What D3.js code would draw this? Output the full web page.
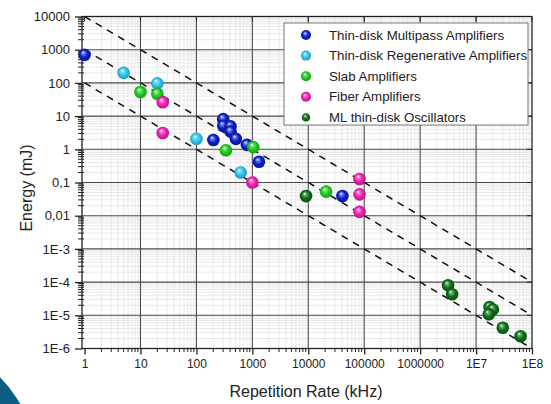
<!DOCTYPE html>
<html>
<head>
<meta charset="utf-8">
<script src="https://cdn.jsdelivr.net/npm/d3@7"></script>
<style>
  body { margin: 0; background: #fff; }
  svg { display: block; font-family: "Liberation Sans", Arial, sans-serif; }
</style>
</head>
<body>
<svg width="551" height="404"></svg>
<script>
// Repetition rate (kHz) and pulse energy (mJ)
const multipassRate   = [1, 201, 301, 301, 408, 408, 508, 800, 1313, 40800];
const multipassEnergy = [700, 1.9, 8.1, 5.1, 4.9, 3.4, 2.06, 1.36, 0.42, 0.039];
const regenRate       = [5, 20, 100, 617];
const regenEnergy     = [200, 97, 2.06, 0.2];
const slabRate        = [10, 20, 336, 1038, 20800];
const slabEnergy      = [53, 47, 0.94, 1.16, 0.053];
const fiberRate       = [25, 25, 1000, 82400, 82400, 82400];
const fiberEnergy     = [26, 3.1, 0.1, 0.128, 0.044, 0.013];
const oscRate         = [9130, 3.16e6, 3.73e6, 1.74e7, 2e7, 1.69e7, 3e7, 6.25e7];
const oscEnergy       = [0.039, 8e-5, 4.3e-5, 1.77e-5, 1.5e-5, 1.07e-5, 4.2e-6, 2.35e-6];

const seriesNames = ['Thin-disk Multipass Amplifiers', 'Thin-disk Regenerative Amplifiers',
  'Slab Amplifiers', 'Fiber Amplifiers', 'ML thin-disk Oscillators'];
const seriesColors = ['#0a1ec8', '#2fc3f0', '#1ecb1e', '#f01eb4', '#0b6e16'];

// average power lines: energy * rate = const (mJ * kHz)
const powerLines = [10000, 1000, 100];

const xTicks = [1, 10, 100, 1000, 1e4, 1e5, 1e6, 1e7, 1e8];
const xLabels = ['1', '10', '100', '1000', '10000', '100000', '1000000', '1E7', '1E8'];
const yTicks = [1e4, 1e3, 100, 10, 1, 0.1, 0.01, 1e-3, 1e-4, 1e-5, 1e-6];
const yLabels = ['10000', '1000', '100', '10', '1', '0,1', '0,01', '1E-3', '1E-4', '1E-5', '1E-6'];

const series = [
  [multipassRate, multipassEnergy],
  [regenRate, regenEnergy],
  [slabRate, slabEnergy],
  [fiberRate, fiberEnergy],
  [oscRate, oscEnergy]
].map(([r, e], i) => ({ i, points: r.map((v, j) => ({ r: v, e: e[j] })) }));

const svg = d3.select('svg');
const pLeft = 82, pRight = 532, pTop = 16.5, pBottom = 348.5;

const x = d3.scaleLog().domain([0.9, 1e8]).range([pLeft, pRight]);
const y = d3.scaleLog().domain([1e-6, 1e4]).range([pBottom, pTop]);

// decorative slide background shape in the corner
svg.append('circle')
  .attr('cx', -94).attr('cy', 470).attr('r', 132)
  .attr('fill', '#0d5d80');

const defs = svg.append('defs');
seriesColors.forEach((c, i) => {
  const g = defs.append('radialGradient')
    .attr('id', 'ball' + i)
    .attr('cx', '50%').attr('cy', '50%').attr('r', '55%')
    .attr('fx', '38%').attr('fy', '30%');
  g.append('stop').attr('offset', '0%').attr('stop-color', '#ffffff');
  g.append('stop').attr('offset', '18%').attr('stop-color', d3.interpolateRgb(c, '#fff')(0.45));
  g.append('stop').attr('offset', '55%').attr('stop-color', c);
  g.append('stop').attr('offset', '100%').attr('stop-color', d3.color(c).darker(0.9));
});
defs.append('clipPath').attr('id', 'plot')
  .append('rect').attr('x', pLeft).attr('y', pTop)
  .attr('width', pRight - pLeft).attr('height', pBottom - pTop);

// minor grid
const minorX = [], minorY = [];
for (let d = 0; d < 8; d++) for (let k = 2; k < 10; k++) minorX.push(k * Math.pow(10, d));
for (let d = -6; d < 4; d++) for (let k = 2; k < 10; k++) minorY.push(k * Math.pow(10, d));

const grid = svg.append('g');
grid.selectAll('.mx').data(minorX).enter().append('line')
  .attr('x1', d => x(d)).attr('x2', d => x(d))
  .attr('y1', pTop).attr('y2', pBottom)
  .attr('stroke', '#e3e3e3').attr('stroke-width', 0.8);
grid.selectAll('.my').data(minorY).enter().append('line')
  .attr('y1', d => y(d)).attr('y2', d => y(d))
  .attr('x1', pLeft).attr('x2', pRight)
  .attr('stroke', '#e3e3e3').attr('stroke-width', 0.8);
grid.selectAll('.gx').data(xTicks.slice(1, -1)).enter().append('line')
  .attr('x1', d => x(d)).attr('x2', d => x(d))
  .attr('y1', pTop).attr('y2', pBottom)
  .attr('stroke', '#4a4a4a').attr('stroke-width', 1.1);
grid.selectAll('.gy').data(yTicks.slice(1, -1)).enter().append('line')
  .attr('y1', d => y(d)).attr('y2', d => y(d))
  .attr('x1', pLeft).attr('x2', pRight)
  .attr('stroke', '#4a4a4a').attr('stroke-width', 1.1);

// dashed constant-power lines
svg.append('g').attr('clip-path', 'url(#plot)')
  .selectAll('line').data(powerLines).enter().append('line')
  .attr('x1', x(1)).attr('y1', p => y(p / 1))
  .attr('x2', x(1e8)).attr('y2', p => y(p / 1e8))
  .attr('stroke', '#111').attr('stroke-width', 1.5)
  .attr('stroke-dasharray', '7,6');

// frame
svg.append('rect')
  .attr('x', pLeft).attr('y', pTop)
  .attr('width', pRight - pLeft).attr('height', pBottom - pTop)
  .attr('fill', 'none').attr('stroke', '#222').attr('stroke-width', 1.3);

// axes
const xAxis = svg.append('g')
  .attr('transform', `translate(0,${pBottom})`)
  .call(d3.axisBottom(x).tickValues(xTicks)
    .tickFormat((d, i) => xLabels[i]).tickSize(6).tickPadding(5));
const yAxis = svg.append('g')
  .attr('transform', `translate(${pLeft},0)`)
  .call(d3.axisLeft(y).tickValues(yTicks)
    .tickFormat((d, i) => yLabels[i]).tickSize(7).tickPadding(5));
[xAxis, yAxis].forEach(a => {
  a.select('.domain').remove();
  a.selectAll('line').attr('stroke', '#222').attr('stroke-width', 1.3);
  a.selectAll('text').attr('fill', '#222').style('font-family', '"Liberation Sans", Arial, sans-serif');
});
xAxis.selectAll('text').style('font-size', '12px');
yAxis.selectAll('text').style('font-size', '13px');

svg.append('g').selectAll('line').data(minorX).enter().append('line')
  .attr('x1', d => x(d)).attr('x2', d => x(d))
  .attr('y1', pBottom).attr('y2', pBottom + 3.5)
  .attr('stroke', '#222');
svg.append('g').selectAll('line').data(minorY).enter().append('line')
  .attr('y1', d => y(d)).attr('y2', d => y(d))
  .attr('x1', pLeft - 4).attr('x2', pLeft + 2)
  .attr('stroke', '#222');
// inner ticks on top and right
svg.append('g').selectAll('line').data(xTicks).enter().append('line')
  .attr('x1', d => x(d)).attr('x2', d => x(d))
  .attr('y1', pTop).attr('y2', pTop + 5)
  .attr('stroke', '#222');
svg.append('g').selectAll('line').data(yTicks).enter().append('line')
  .attr('y1', d => y(d)).attr('y2', d => y(d))
  .attr('x1', pRight - 5).attr('x2', pRight)
  .attr('stroke', '#222');

// axis titles
svg.append('text')
  .attr('x', 306).attr('y', 397)
  .attr('text-anchor', 'middle')
  .style('font-size', '16px').attr('fill', '#222')
  .text('Repetition Rate (kHz)');
svg.append('text')
  .attr('transform', 'translate(32,188) rotate(-90)')
  .attr('text-anchor', 'middle')
  .style('font-size', '16px').attr('fill', '#222')
  .text('Energy (mJ)');

// points
const pts = svg.append('g');
series.forEach(s => {
  pts.selectAll('.p' + s.i).data(s.points).enter().append('circle')
    .attr('cx', d => x(d.r)).attr('cy', d => y(d.e))
    .attr('r', 6.3)
    .attr('fill', `url(#ball${s.i})`);
});

// legend
const lg = svg.append('g');
lg.append('rect')
  .attr('x', 284).attr('y', 23).attr('width', 244).attr('height', 102)
  .attr('fill', '#fff').attr('stroke', '#777').attr('stroke-width', 1);
const rows = lg.selectAll('.row').data(seriesNames).enter().append('g')
  .attr('transform', (d, i) => `translate(0,${35 + i * 20.6})`);
rows.append('circle')
  .attr('cx', 306).attr('cy', 0)
  .attr('r', (d, i) => i === 4 ? 4.2 : 5)
  .attr('fill', (d, i) => `url(#ball${i})`);
rows.append('text')
  .attr('x', 329).attr('y', 0).attr('dy', '0.35em')
  .style('font-size', '13.3px').attr('fill', '#222')
  .text(d => d);
</script>
</body>
</html>
